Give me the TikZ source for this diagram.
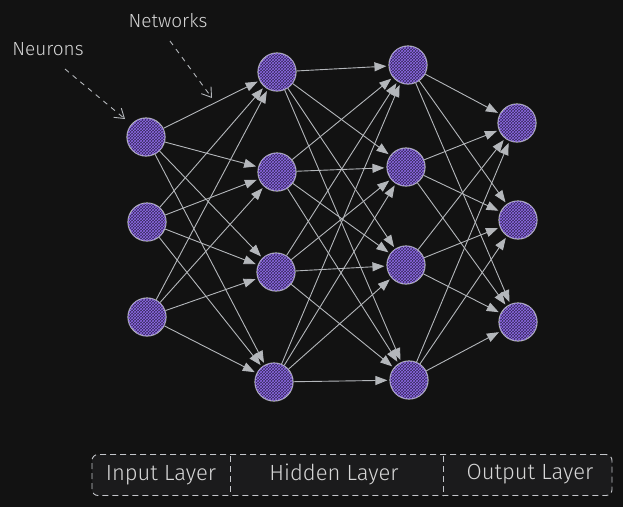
\documentclass[tikz,border=0pt]{standalone}
\usepackage{fontspec}
\setmainfont{Fira Sans Light}
\usetikzlibrary{arrows.meta,patterns}

\definecolor{bgcol}{HTML}{121212}
\definecolor{boxcol}{HTML}{1B1B1C}
\definecolor{linecol}{HTML}{B4B7BB}
\definecolor{hatchcol}{HTML}{8F6BE8}
\definecolor{basecol}{HTML}{35285A}
\definecolor{textcol}{HTML}{D6D6D6}

\begin{document}
\begin{tikzpicture}[
    x=1pt, y=-1pt,
    neuron/.style={circle,draw=linecol,line width=1.2pt,inner sep=0pt,minimum size=38pt,
      fill=basecol,postaction={pattern=crosshatch,pattern color=hatchcol}},
    conn/.style={draw=linecol,line width=0.9pt,shorten >=2pt,-{Triangle[length=12pt,width=9pt]}},
    note/.style={text=textcol,font=\fontsize{19}{22}\selectfont},
    legendtext/.style={text=textcol,font=\fontsize{22}{26}\selectfont},
    pointer/.style={draw=linecol,line width=0.9pt,dash pattern=on 5pt off 5pt,-{Straight Barb[length=9pt,width=12pt]}}
    ]

    \useasboundingbox[fill=bgcol] (0,0) rectangle (623,507);

    % input neurons:
    \node (i0) at (146,137) [neuron] {};
    \node (i1) at (147,222) [neuron] {};
    \node (i2) at (147,317) [neuron] {};

    % first hidden layer:
    \node (ha0) at (277,72) [neuron] {};
    \node (ha1) at (277,172) [neuron] {};
    \node (ha2) at (276,272) [neuron] {};
    \node (ha3) at (274,382) [neuron] {};

    % second hidden layer:
    \node (hb0) at (408,65) [neuron] {};
    \node (hb1) at (406,167) [neuron] {};
    \node (hb2) at (406,265) [neuron] {};
    \node (hb3) at (409,380) [neuron] {};

    % output:
    \node (o0) at (517,123) [neuron] {};
    \node (o1) at (518,220) [neuron] {};
    \node (o2) at (518,322) [neuron] {};

    % connections:
    \foreach \x in {0,...,2}
    \foreach \y in {0,...,3}
    \draw [conn] (i\x) to (ha\y);

    \foreach \x in {0,...,3}
    \foreach \y in {0,...,3}
    \draw [conn] (ha\x) to (hb\y);

    \foreach \x in {0,...,3}
    \foreach \y in {0,...,2}
    \draw [conn] (hb\x) to (o\y);

    % notes:
    \node (neurons) at (48,49) [note] {Neurons};
    \node (networks) at (168,21) [note] {Networks};
    \coordinate (neuronsTail) at (65,69);
    \coordinate (neuronsTip) at (125,119);
    \coordinate (networksTail) at (170,41);
    \coordinate (networksTip) at (212,98);
    \draw [pointer] (neuronsTail) -- (neuronsTip);
    \draw [pointer] (networksTail) -- (networksTip);

    % layer legend:
    \node (legend) at (352,475) [draw=linecol!80,fill=boxcol,line width=0.9pt,dash pattern=on 6pt off 4pt,
      rounded corners=6pt,minimum width=520pt,minimum height=41pt] {};
    \coordinate (cutA) at (230,456);
    \coordinate (cutB) at (443,456);
    \draw [linecol!80,line width=0.8pt,dash pattern=on 6pt off 4pt] (cutA) -- ++(0,40);
    \draw [linecol!80,line width=0.8pt,dash pattern=on 6pt off 4pt] (cutB) -- ++(0,40);
    \node (inLbl) at (161,475) [legendtext] {Input Layer};
    \node (hidLbl) at (334,474) [legendtext] {Hidden Layer};
    \node (outLbl) at (530,474) [legendtext] {Output Layer};

\end{tikzpicture}
\end{document}
